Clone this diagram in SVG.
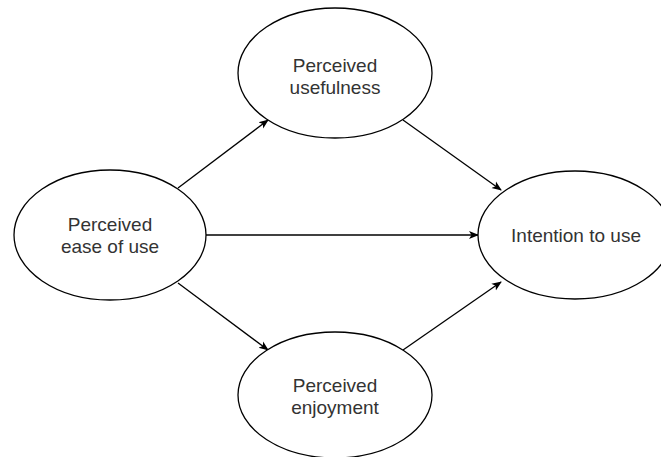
<svg xmlns="http://www.w3.org/2000/svg" width="661" height="457" viewBox="0 0 661 457">
<style>
.n{fill:#fff;stroke:#000;stroke-width:1.3}
.t{font-family:"Liberation Sans",Arial,sans-serif;font-size:19px;fill:#333;text-anchor:middle}
.c{stroke:#000;stroke-width:1.3;fill:none;marker-end:url(#a)}
</style>
<defs>
<marker id="a" viewBox="0 0 10 10" refX="9" refY="5" markerWidth="10" markerHeight="10" markerUnits="userSpaceOnUse" orient="auto">
<path d="M0,1 L10,5 L0,9 L2.5,5 Z" fill="#000"/>
</marker>
</defs>
<rect width="661" height="457" fill="#fff"/>
<g id="connectors">
<line class="c" x1="178" y1="188" x2="268" y2="120"/>
<line class="c" x1="403" y1="120" x2="501" y2="190"/>
<line class="c" x1="206" y1="235" x2="478" y2="235"/>
<line class="c" x1="178" y1="283" x2="268" y2="350"/>
<line class="c" x1="403" y1="350" x2="501" y2="282"/>
</g>
<g id="n1">
<ellipse class="n" cx="335" cy="73" rx="97" ry="65"/>
<text class="t" x="335" y="72">Perceived</text>
<text class="t" x="335" y="94">usefulness</text>
</g>
<g id="n2">
<ellipse class="n" cx="110" cy="235" rx="96" ry="65"/>
<text class="t" x="110" y="231">Perceived</text>
<text class="t" x="110" y="253">ease of use</text>
</g>
<g id="n3">
<ellipse class="n" cx="575" cy="235" rx="97" ry="64"/>
<text class="t" x="576" y="242">Intention to use</text>
</g>
<g id="n4">
<ellipse class="n" cx="335" cy="395" rx="97" ry="63"/>
<text class="t" x="335" y="392">Perceived</text>
<text class="t" x="335" y="414">enjoyment</text>
</g>
</svg>
